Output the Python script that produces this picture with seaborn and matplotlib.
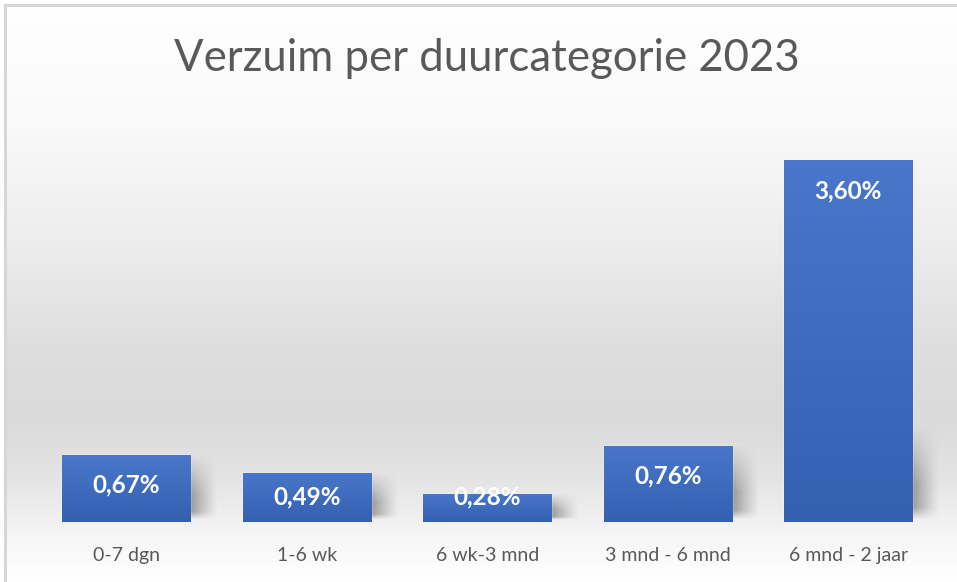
import numpy as np
import pandas as pd
import matplotlib
matplotlib.use("Agg")
import matplotlib.pyplot as plt
import seaborn as sns
from matplotlib.colors import LinearSegmentedColormap, to_rgb

categories = ["0-7 dgn", "1-6 wk", "6 wk-3 mnd", "3 mnd - 6 mnd", "6 mnd - 2 jaar"]
values = [0.67, 0.49, 0.28, 0.76, 3.60]
labels = ["0,67%", "0,49%", "0,28%", "0,76%", "3,60%"]
title = "Verzuim per duurcategorie 2023"

df = pd.DataFrame({"cat": categories, "val": values})

sns.set_theme(style="white")
plt.rcParams["font.family"] = ["Lato", "DejaVu Sans"]

W, H = 957, 582
fig = plt.figure(figsize=((W + 0.4) / 100, (H + 0.4) / 100), dpi=100)

# background gradient with the chart-area frame (left and top edge) baked in
stops_px = np.array([0, 120, 250, 350, 420, 480, 540, 582])
stops_v = np.array([255, 250, 236, 222, 218, 228, 246, 255]) / 255
prof = np.interp(np.arange(H + 2), stops_px, stops_v)
img = np.repeat(prof[:, None], W + 2, axis=1)
img[:6, :] = 1.0
img[:, :4] = 1.0
img[6:9, 4:] = 0.84
img[6:, 4:7] = 0.84
img = np.dstack([img, img, img])
fig.figimage(img, xo=0, yo=0, origin="upper", zorder=0)

ax = fig.add_axes([36 / W, (H - 522) / H, 902 / W, 402 / H], zorder=1)
ax.patch.set_alpha(0)
sns.barplot(data=df, x="cat", y="val", color="#4472C4", width=0.71, ax=ax,
            saturation=1, zorder=3)

cmap = LinearSegmentedColormap.from_list("bar", [to_rgb("#3460B0"), to_rgb("#4877CB")])
grad = np.linspace(0, 1, 256)[:, None]
for p in ax.patches:
    x0, w, h = p.get_x(), p.get_width(), p.get_height()
    sh_h = min(h, 0.95)
    sh = np.ones((64, 64, 4))
    sh[..., :3] = 0.42
    xx = np.linspace(1, 0, 64)[None, :]
    yy = np.linspace(0, 1, 64)[:, None]
    alpha = 0.65 * xx ** 1.2 * np.clip(yy * 1.6, 0, 1) * np.clip((1 - yy) * 8, 0, 1)
    sh[..., 3] = alpha
    ax.imshow(sh, extent=[x0 + w, x0 + w + 0.15, 0.02, sh_h], aspect="auto",
              origin="upper", zorder=2, interpolation="bilinear")
    im = ax.imshow(grad, extent=[x0, x0 + w, 0, h], aspect="auto", origin="lower",
                   cmap=cmap, zorder=4, interpolation="bilinear")
    im.set_clip_path(p)

ax.set_xlim(-0.5, 4.5)
ax.set_ylim(0, 4.0)

for i, (v, lab) in enumerate(zip(values, labels)):
    y = max(v - 0.30, 0.255)
    ax.text(i, y, lab, ha="center", va="center", color="white", fontsize=17.5,
            fontweight="bold", zorder=6)

ax.set_xlabel("")
ax.set_ylabel("")
ax.set_yticks([])
ax.tick_params(axis="x", length=0, pad=18, labelsize=14, labelcolor="#595959")
for s in ax.spines.values():
    s.set_visible(False)

fig.text(487 / W, 1 - 58 / H, title, ha="center", va="center", fontsize=31.5,
         color="#595959", fontweight="normal")

fig.savefig("out.png", dpi=100)
